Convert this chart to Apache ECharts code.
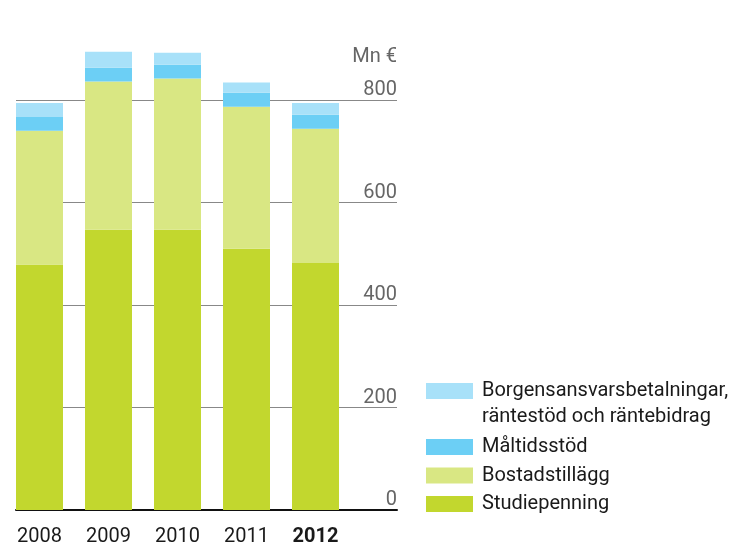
<!DOCTYPE html>
<html lang="sv">

<head>
    <meta charset="UTF-8">
    <script src="https://cdn.jsdelivr.net/npm/echarts@6/dist/echarts.min.js"></script>
    <title>Studiestöd 2008-2012</title>
    <style>
        html,
        body {
            margin: 0;
            width: 100%;
            height: 100%;
            background: #fff;
        }
    </style>
</head>

<body>
    <div id="chart" style="width: 730px;height: 543px;"></div>
    <script>
        var years = ['2008', '2009', '2010', '2011', '2012'];
        var studiepenning = [479, 547, 547, 510, 482];
        var bostadstillagg = [261, 289, 295, 277, 262];
        var maltidsstod = [27, 27, 27, 27, 27];
        var borgens = [27, 31, 23, 20, 23];

        var seriesNames = ['Studiepenning', 'Bostadstillägg', 'Måltidsstöd',
            'Borgensansvarsbetalningar,\nräntestöd och räntebidrag'];
        var colors = ['#c2d72e', '#d9e783', '#6ccff5', '#a8e1f9'];

        var FONT = "Roboto, 'Liberation Sans', sans-serif";

        var chart = echarts.init(document.getElementById('chart'));

        var values = [studiepenning, bostadstillagg, maltidsstod, borgens];
        var series = values.map(function (v, i) {
            return {
                name: seriesNames[i],
                type: 'bar',
                stack: 'total',
                xAxisIndex: 0,
                yAxisIndex: 0,
                barWidth: 47,
                clip: false,
                itemStyle: { color: colors[i] },
                data: v,
                animation: false
            };
        });

        var option = {
            color: colors,
            textStyle: { fontFamily: FONT },
            title: {
                text: 'Mn €',
                right: 333,
                top: 47,
                padding: 0,
                textStyle: { color: '#666', fontSize: 20, fontWeight: 'normal', fontFamily: FONT }
            },
            grid: [
                // bars
                { left: 5, width: 345, top: 100, bottom: 33, outerBoundsMode: 'none', containLabel: false },
                // gridlines, value labels, base line
                { left: 16, right: 333, top: 100, bottom: 33, outerBoundsMode: 'none', containLabel: false }
            ],
            xAxis: [
                {
                    type: 'category',
                    gridIndex: 0,
                    data: years.map(function (y, i) {
                        return i === years.length - 1 ? { value: y, textStyle: { fontWeight: 'bold' } } : y;
                    }),
                    axisLine: { show: false },
                    axisTick: { show: false },
                    axisLabel: { margin: 17, color: '#1a1a1a', fontSize: 20, fontFamily: FONT }
                },
                {
                    type: 'value',
                    gridIndex: 1,
                    min: 0,
                    max: 1,
                    axisLine: { show: true, lineStyle: { color: '#111', width: 2 } },
                    axisTick: { show: false },
                    axisLabel: { show: false },
                    splitLine: { show: false }
                }
            ],
            yAxis: [
                {
                    type: 'value',
                    gridIndex: 0,
                    min: 0,
                    max: 800,
                    interval: 200,
                    show: false,
                    splitLine: { show: false }
                },
                {
                    type: 'value',
                    gridIndex: 1,
                    position: 'right',
                    min: 0,
                    max: 800,
                    interval: 200,
                    axisLine: { show: false },
                    axisTick: { show: false },
                    axisLabel: {
                        inside: true,
                        margin: 0,
                        verticalAlign: 'bottom',
                        color: '#666',
                        fontSize: 20,
                        fontFamily: FONT
                    },
                    splitLine: { show: true, lineStyle: { color: '#888', width: 1 } }
                }
            ],
            legend: [
                {
                    data: [seriesNames[3]],
                    orient: 'vertical',
                    left: 426,
                    top: 352,
                    padding: 0,
                    itemWidth: 47,
                    itemHeight: 16,
                    icon: 'rect',
                    selectedMode: false,
                    // blank first line keeps the swatch level with the first text line
                    formatter: function (name) { return ' \n' + name; },
                    textStyle: {
                        color: '#1a1a1a', fontSize: 20, lineHeight: 26,
                        fontFamily: FONT, padding: [0, 0, 0, 4]
                    }
                },
                {
                    data: [seriesNames[2], seriesNames[1], seriesNames[0]],
                    orient: 'vertical',
                    left: 426,
                    top: 435,
                    padding: 0,
                    itemGap: 4.5,
                    itemWidth: 47,
                    itemHeight: 16,
                    icon: 'rect',
                    selectedMode: false,
                    textStyle: {
                        color: '#1a1a1a', fontSize: 20, lineHeight: 24,
                        fontFamily: FONT, padding: [0, 0, 0, 4]
                    }
                }
            ],
            series: series
        };

        chart.setOption(option);
    </script>
</body>

</html>
